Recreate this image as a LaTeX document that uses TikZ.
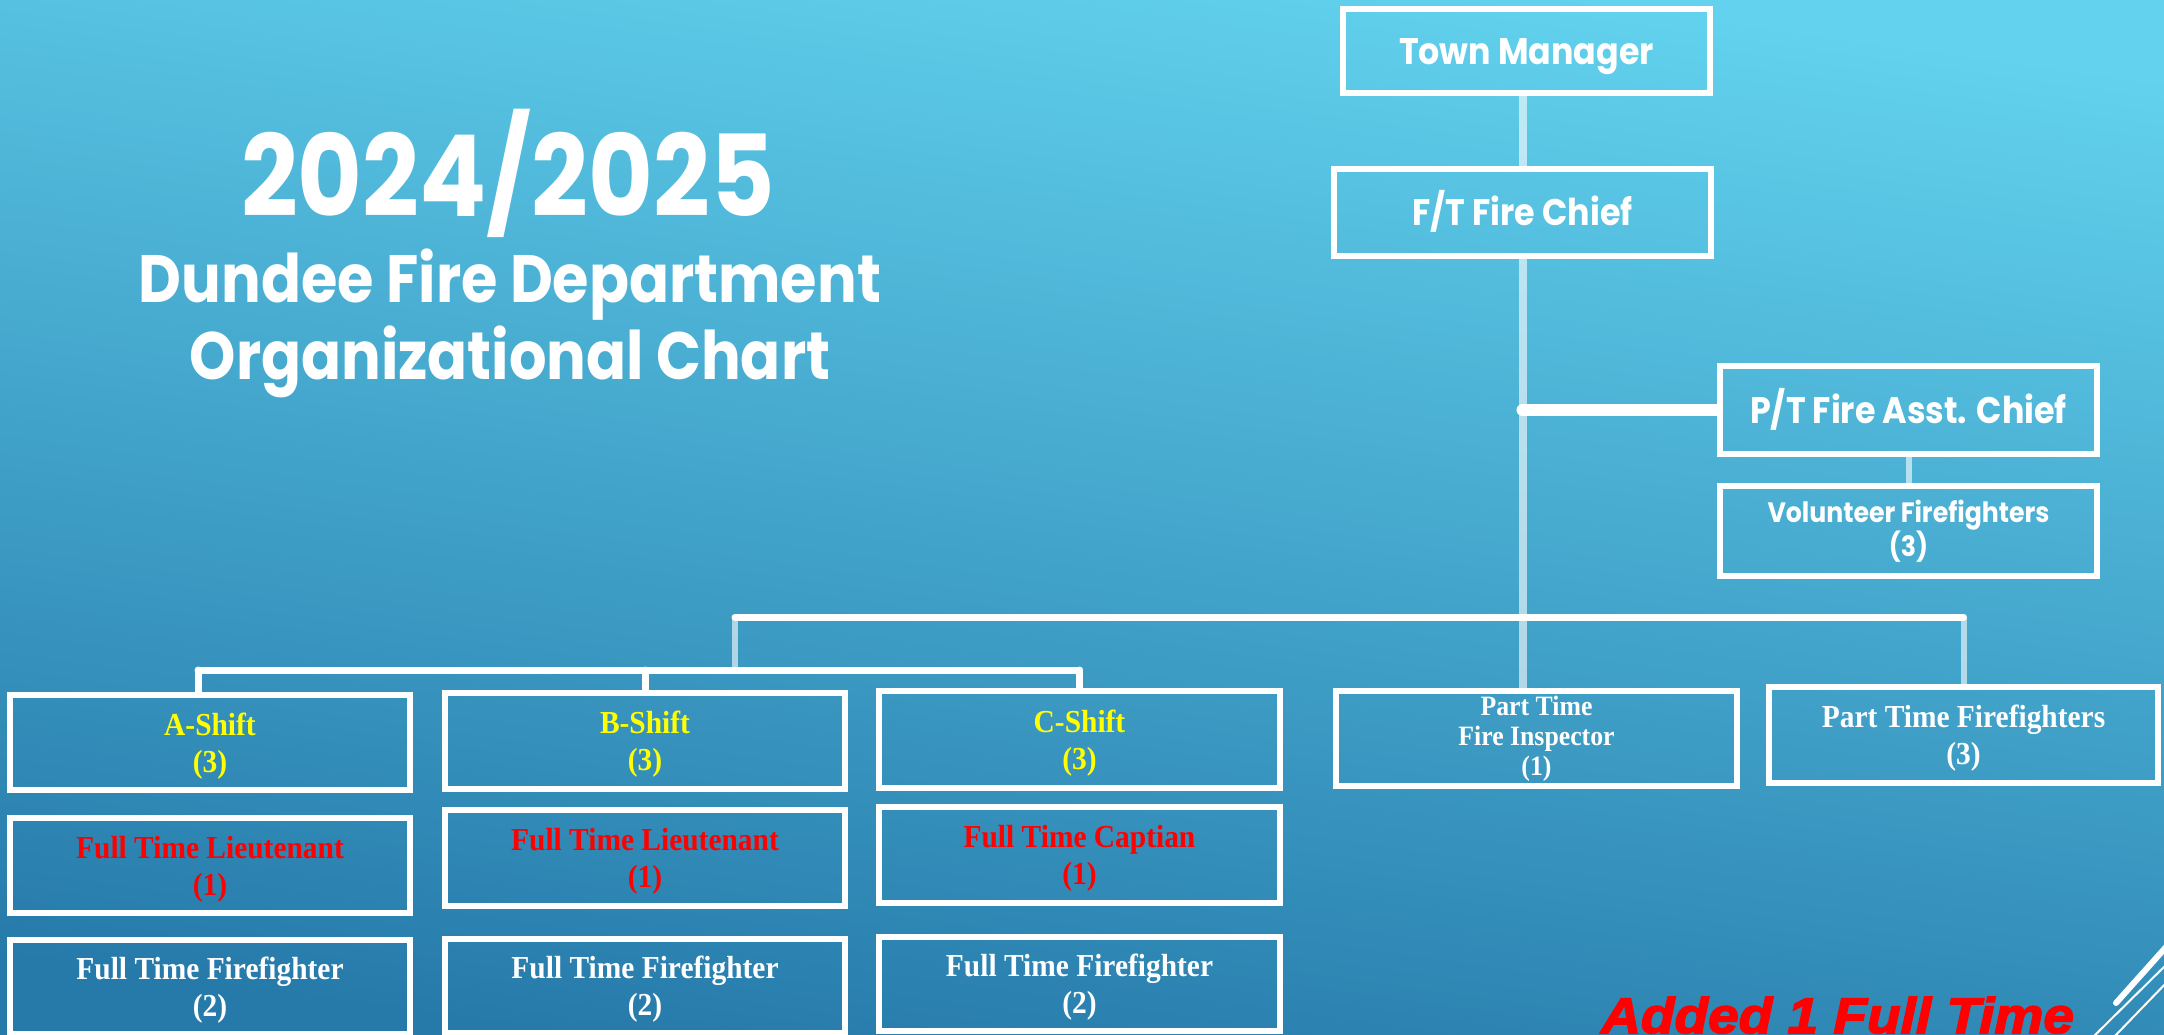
\documentclass[tikz,border=0pt]{standalone}
\usepackage{fontspec}
\setmainfont{Liberation Serif}
\newfontfamily\titlefont[FakeStretch=0.88]{Poppins}
\newfontfamily\boxsans[FakeStretch=0.9]{Poppins}
\newfontfamily\boxserif[FakeStretch=0.92]{Liberation Serif}
\newfontfamily\addedfont[FakeStretch=1.1,FakeBold=3]{Liberation Sans}
\newcommand{\boxlines}[2]{\begin{tabular}{@{}c@{}}\rule{0pt}{34pt}#1\\#2\end{tabular}}
\definecolor{bgtop}{RGB}{98,210,238}
\definecolor{bgbot}{RGB}{38,122,170}
\definecolor{yel}{RGB}{255,255,0}
\definecolor{rd}{RGB}{255,0,0}
\tikzset{
  box/.style={draw=white, line width=6pt, inner sep=0pt, align=center, text=white},
  lightline/.style={draw=white, draw opacity=0.6, line width=8pt},
  thinlight/.style={draw=white, draw opacity=0.6, line width=6pt},
  bar/.style={draw=white, line width=7pt, line cap=round},
  sans/.style={font=\boxsans\bfseries\fontsize{37}{40}\selectfont, text height=27pt, text depth=0pt},
  sanssmall/.style={font=\boxsans\bfseries\fontsize{28}{33}\selectfont},
  serif/.style={font=\boxserif\bfseries\fontsize{32}{37}\selectfont},
  serifsmall/.style={font=\boxserif\bfseries\fontsize{28}{30}\selectfont},
  titletext/.style={text=white, inner sep=0pt, anchor=base},
  deco/.style={draw=white}
}
\begin{document}
\begin{tikzpicture}[x=1pt,y=-1pt]
\useasboundingbox (0,0) rectangle (2164,1035);
\shade[top color=bgtop, bottom color=bgbot, shading angle=-8] (0,0) rectangle (2164,1035);

% title
\node[titletext, font=\titlefont\bfseries\fontsize{113}{113}\selectfont] (t1) at (508,217) {2024/2025};
\node[titletext, font=\titlefont\bfseries\fontsize{67}{67}\selectfont] (t2) at (510,302) {Dundee Fire Department};
\node[titletext, font=\titlefont\bfseries\fontsize{67}{67}\selectfont] (t3) at (510,379) {Organizational Chart};

% top chain
\node[box, sans, minimum width=367, minimum height=84] (tm) at (1526.5,51) {Town Manager};
\node[box, sans, minimum width=377, minimum height=87] (chief) at (1522.5,212.5) {F/T Fire Chief};
\node[box, sans, minimum width=377, minimum height=88] (asst) at (1908.5,410) {P/T Fire Asst. Chief};
\node[box, sanssmall, minimum width=377, minimum height=90] (vol) at (1908.5,531) {Volunteer Firefighters\\(3)};
\node[box, serifsmall, minimum width=401, minimum height=95] (insp) at (1536.5,738.5) {Part Time\\Fire Inspector\\(1)};
\node[box, serif, minimum width=389, minimum height=96] (ptff) at (1963.5,735) {\boxlines{Part Time Firefighters}{(3)}};

% shifts
\node[box, serif, text=yel, minimum width=400, minimum height=95] (ashift) at (210,742.5) {\boxlines{A-Shift}{(3)}};
\node[box, serif, text=rd, minimum width=400, minimum height=95] (alt) at (210,865.5) {\boxlines{Full Time Lieutenant}{(1)}};
\node[box, serif, minimum width=400, minimum height=94] (aff) at (210,987) {\boxlines{Full Time Firefighter}{(2)}};
\node[box, serif, text=yel, minimum width=400, minimum height=96] (bshift) at (645,741) {\boxlines{B-Shift}{(3)}};
\node[box, serif, text=rd, minimum width=400, minimum height=96] (blt) at (645,858) {\boxlines{Full Time Lieutenant}{(1)}};
\node[box, serif, minimum width=400, minimum height=94] (bff) at (645,986) {\boxlines{Full Time Firefighter}{(2)}};
\node[box, serif, text=yel, minimum width=401, minimum height=97] (cshift) at (1079.5,739.5) {\boxlines{C-Shift}{(3)}};
\node[box, serif, text=rd, minimum width=401, minimum height=96] (ccap) at (1079.5,855) {\boxlines{Full Time Captian}{(1)}};
\node[box, serif, minimum width=401, minimum height=94] (cff) at (1079.5,984) {\boxlines{Full Time Firefighter}{(2)}};

% connectors
\coordinate (barL) at (735,617);
\coordinate (sbarL) at (198,670);
\draw[bar] (barL) -- (barL -| ptff.north);
\draw[bar] (sbarL) -- (sbarL -| cshift.north);
\draw[bar] (sbarL) -- (sbarL |- ashift.north);
\draw[bar] (sbarL -| bshift.north) -- (bshift.north);
\draw[bar] (sbarL -| cshift.north) -- (cshift.north);
\draw[bar, line width=12pt] (asst.west) -- (asst.west -| chief.south);
\draw[lightline] (chief.north) -- (chief.north |- tm.south);
\draw[lightline] (chief.south) -- (chief.south |- insp.north);
\draw[thinlight] (asst.south) -- (vol.north);
\draw[thinlight] (barL -| ptff.north) -- (ptff.north);
\draw[thinlight] (barL) -- (barL |- sbarL);

% note
\node[anchor=base west, inner sep=0pt, text=rd, font=\addedfont\bfseries\itshape\fontsize{50}{50}\selectfont] (added) at (1601,1033) {Added 1 Full Time};

% decoration
\draw[deco, line width=6pt, line cap=round] (2116,1003) -- (2175,937);
\draw[deco, line width=2pt] (2092,1038) -- (2170,961);
\draw[deco, line width=2pt] (2112,1039) -- (2170,979);
\end{tikzpicture}
\end{document}
